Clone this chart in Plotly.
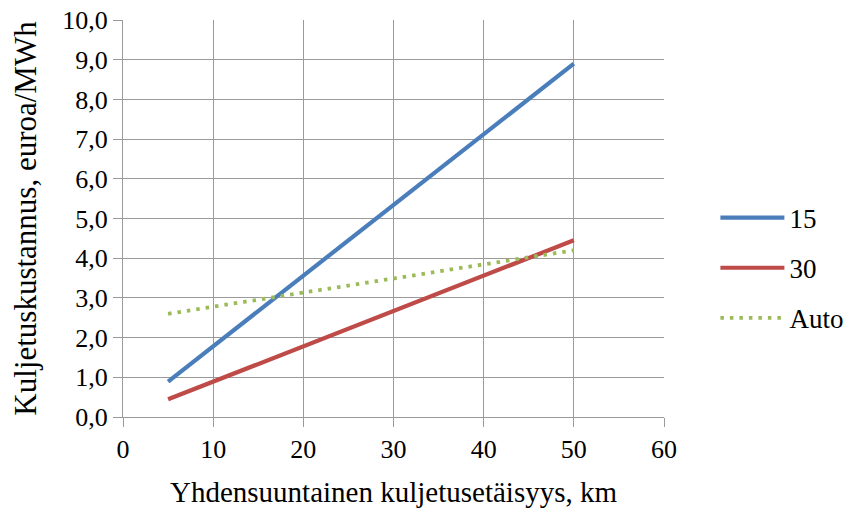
import plotly.graph_objects as go

# Transport distance (one-way), km
distance = [5, 10, 20, 30, 40, 50]

# Transport cost, euro/MWh
cost_15 = [0.89, 1.78, 3.56, 5.34, 7.12, 8.90]
cost_30 = [0.445, 0.89, 1.78, 2.67, 3.56, 4.45]
cost_auto = [2.60, 2.78, 3.13, 3.49, 3.84, 4.20]

series_names = ["15", "30", "Auto"]
series_colors = ["#4A7EBB", "#BE4B48", "#9BBB59"]

x_ticks = [0, 10, 20, 30, 40, 50, 60]
y_ticks = [0, 1, 2, 3, 4, 5, 6, 7, 8, 9, 10]

FONT = "Liberation Serif"
GRID = "#9A9A9A"

fig = go.Figure()
for i, (name, vals) in enumerate(zip(series_names, [cost_15, cost_30, cost_auto])):
    dotted = name == "Auto"
    fig.add_trace(go.Scatter(
        x=distance, y=vals, name=name, mode="lines",
        legendgroup=name,
        line=dict(color=series_colors[i], width=3.8 if dotted else 4.2,
                  dash="3.5px,6px" if dotted else "solid"),
    ))

fig.update_layout(
    width=852, height=513,
    margin=dict(l=123, r=188, t=20, b=96, autoexpand=False),
    paper_bgcolor="white", plot_bgcolor="white",
    separators=", ",
    font=dict(family=FONT, size=26, color="black"),
    showlegend=True,
    legend=dict(x=1.095, y=0.375, xanchor="left", yanchor="middle",
                xref="paper", yref="paper",
                font=dict(family=FONT, size=27, color="black"),
                tracegroupgap=12, itemwidth=64,
                bgcolor="rgba(0,0,0,0)"),
    xaxis=dict(
        range=[0, 60], tickvals=x_ticks, tickformat="d",
        showgrid=True, gridcolor=GRID, gridwidth=1,
        showline=True, linecolor=GRID, linewidth=1.3,
        ticks="outside", ticklen=9, tickcolor=GRID, tickwidth=1.3,
        zeroline=False,
        tickfont=dict(family=FONT, size=26),
        title=dict(text="Yhdensuuntainen kuljetusetäisyys, km",
                   font=dict(family=FONT, size=29), standoff=18),
    ),
    yaxis=dict(
        range=[0, 10], tickvals=y_ticks, tickformat=".1f",
        showgrid=True, gridcolor=GRID, gridwidth=1,
        showline=True, linecolor=GRID, linewidth=1.3,
        ticks="outside", ticklen=9, tickcolor=GRID, tickwidth=1.3,
        zeroline=False,
        tickfont=dict(family=FONT, size=26),
        title=dict(text="Kuljetuskustannus, euroa/MWh",
                   font=dict(family=FONT, size=31), standoff=16),
    ),
)

fig.write_html("out.html")
